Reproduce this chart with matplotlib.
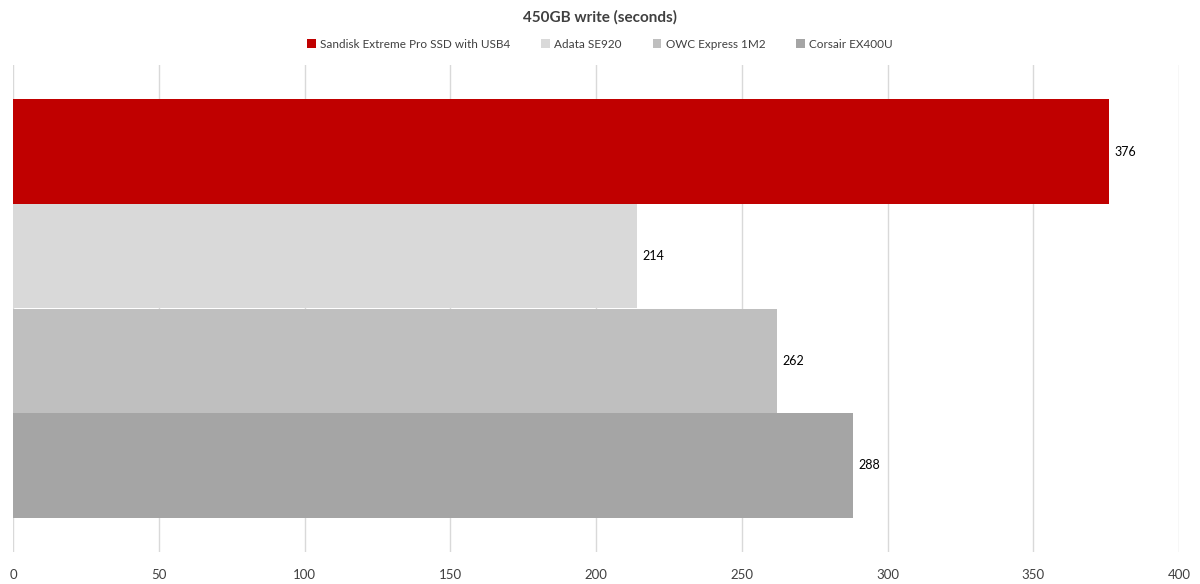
import matplotlib.pyplot as plt
from matplotlib.patches import Patch

# data
drives = ['Sandisk Extreme Pro SSD with USB4', 'Adata SE920', 'OWC Express 1M2', 'Corsair EX400U']
seconds = [376, 214, 262, 288]
colors = ['#c00000', '#d9d9d9', '#bfbfbf', '#a5a5a5']
xticks = [0, 50, 100, 150, 200, 250, 300, 350, 400]

plt.rcParams['font.family'] = ['Lato', 'DejaVu Sans']

fig = plt.figure(figsize=(12, 5.84), dpi=100)
ax = fig.add_axes([13 / 1200, 1 - 552 / 584, (1179 - 13) / 1200, (552 - 65) / 584])

positions = list(range(len(drives)))
bars = ax.barh(positions, seconds, height=1.0, color=colors, zorder=2)
for bar, val in zip(bars, seconds):
    ax.text(bar.get_width() + 2, bar.get_y() + bar.get_height() / 2, str(val),
            va='center', ha='left', fontsize=9, color='#000000')

ax.set_xlim(0, 400)
ax.set_ylim(3.5 + 0.33, -0.5 - 0.33)
ax.set_xticks(xticks)
ax.set_xticklabels([str(t) for t in xticks], fontsize=9.5, color='#404040')
ax.set_yticks([])
ax.xaxis.grid(True, color='#d9d9d9', linewidth=1, zorder=0)
ax.tick_params(axis='x', length=0, pad=12)
for side in ['top', 'bottom', 'left', 'right']:
    ax.spines[side].set_visible(False)

fig.text(0.5, 1 - 17 / 584, '450GB write (seconds)', ha='center', va='center',
         fontsize=11, fontweight='bold', color='#404040')

handles = [Patch(facecolor=c, edgecolor='none') for c in colors]
fig.legend(handles, drives, loc='center', bbox_to_anchor=(0.5, 1 - 44 / 584), ncol=4,
           frameon=False, fontsize=8.5, handlelength=0.75, handleheight=0.75,
           handletextpad=0.35, columnspacing=2.6, labelcolor='#404040')

fig.savefig('out.png', dpi=100)
